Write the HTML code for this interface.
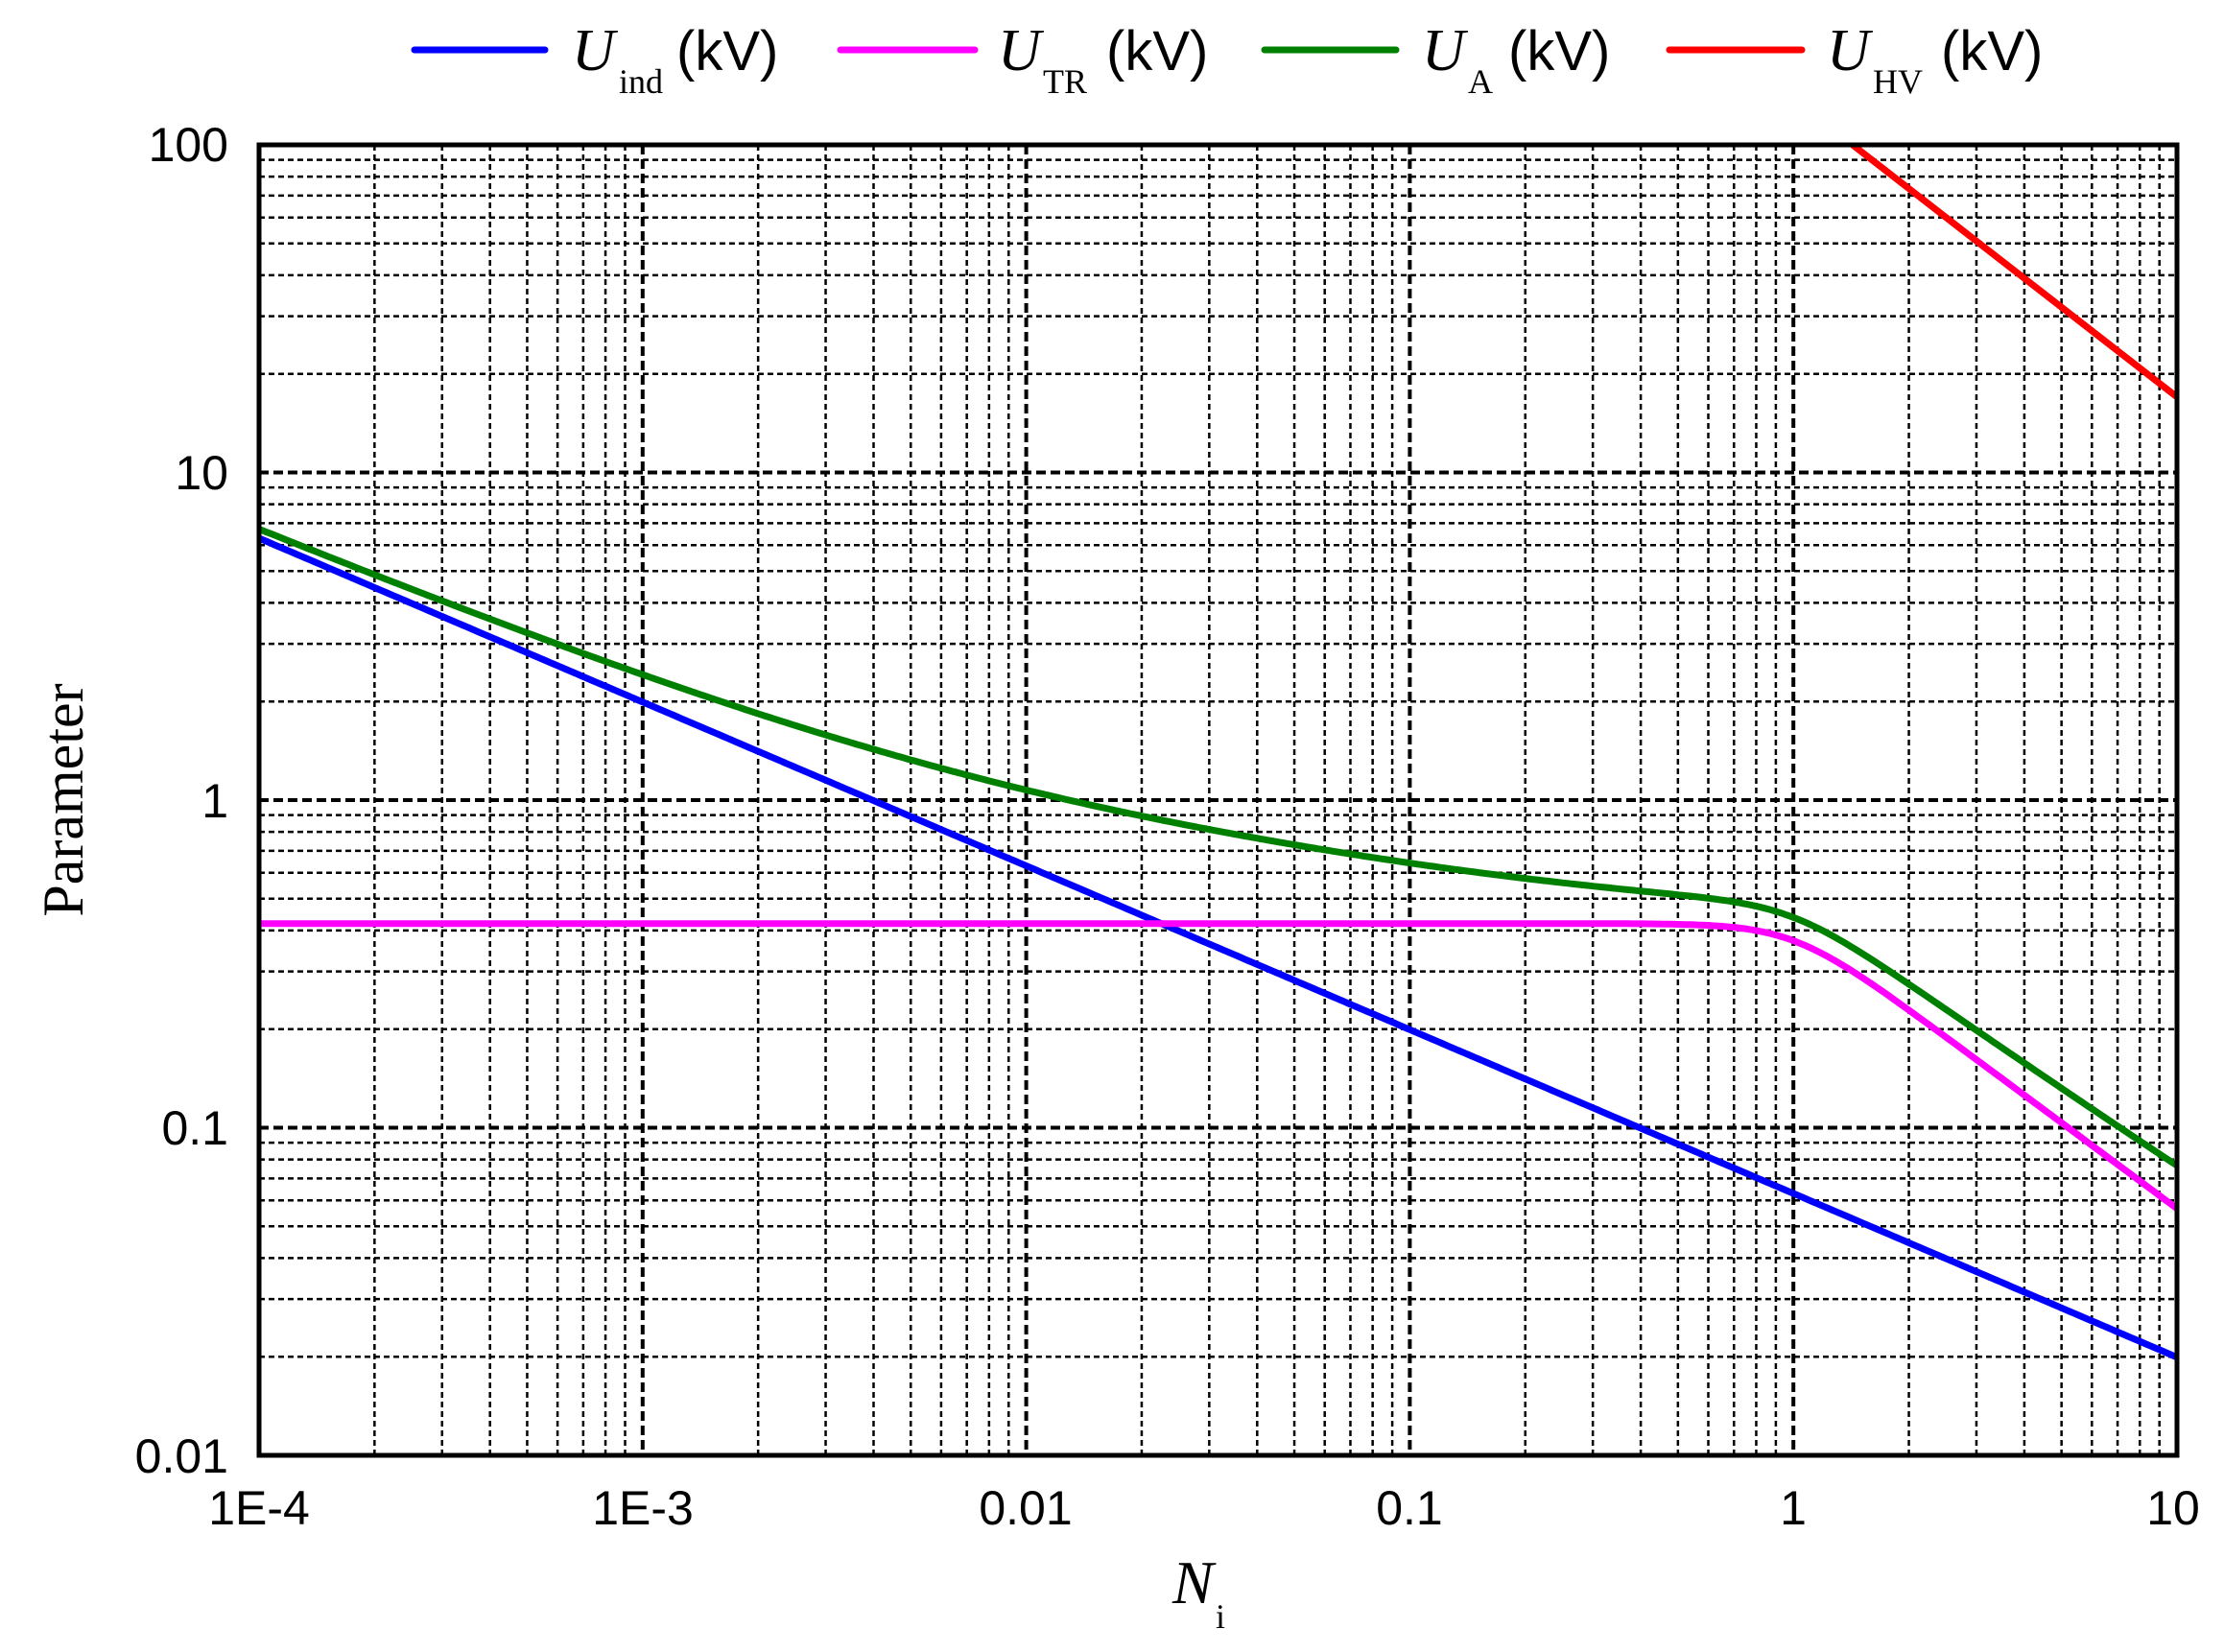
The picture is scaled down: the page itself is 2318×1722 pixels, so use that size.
<!DOCTYPE html>
<html><head><meta charset="utf-8"><style>
html,body{margin:0;padding:0;background:#fff;}
svg{display:block;}
</style></head><body>
<svg id="s" width="2318" height="1722" xmlns="http://www.w3.org/2000/svg">
<g id="grid"></g>
<g id="curves"></g>
<rect x="270" y="151" width="1999" height="1366" fill="none" stroke="#000" stroke-width="5"/>
<g font-family="Liberation Sans, sans-serif" font-size="50" fill="#000">
<text x="238" y="168" text-anchor="end">100</text>
<text x="238" y="510" text-anchor="end">10</text>
<text x="238" y="852" text-anchor="end">1</text>
<text x="238" y="1193" text-anchor="end">0.1</text>
<text x="238" y="1535" text-anchor="end">0.01</text>
<text x="270" y="1589" text-anchor="middle">1E-4</text>
<text x="670" y="1589" text-anchor="middle">1E-3</text>
<text x="1069" y="1589" text-anchor="middle">0.01</text>
<text x="1469" y="1589" text-anchor="middle">0.1</text>
<text x="1869" y="1589" text-anchor="middle">1</text>
<text x="2265" y="1589" text-anchor="middle">10</text>
</g>
<text x="1222" y="1671" font-family="Liberation Serif, serif" font-style="italic" font-size="64">N</text>
<text x="1267" y="1697" font-family="Liberation Serif, serif" font-size="36">i</text>
<text transform="translate(86,834) rotate(-90)" text-anchor="middle" font-family="Liberation Serif, serif" font-size="60">Parameter</text>
<g stroke-width="7" stroke-linecap="round">
<line x1="432" y1="52" x2="568" y2="52" stroke="#0000ff"/>
<line x1="876" y1="52" x2="1016" y2="52" stroke="#ff00ff"/>
<line x1="1318" y1="52" x2="1455" y2="52" stroke="#008000"/>
<line x1="1740" y1="52" x2="1878" y2="52" stroke="#ff0000"/>
</g>
<g fill="#000">
<text x="596" y="73" font-family="Liberation Serif, serif" font-style="italic" font-size="62">U</text>
<text x="645" y="97" font-family="Liberation Serif, serif" font-size="36">ind</text>
<text x="705" y="73" font-family="Liberation Sans, sans-serif" font-size="58">(kV)</text>
<text x="1040" y="73" font-family="Liberation Serif, serif" font-style="italic" font-size="62">U</text>
<text x="1087" y="97" font-family="Liberation Serif, serif" font-size="36">TR</text>
<text x="1153" y="73" font-family="Liberation Sans, sans-serif" font-size="58">(kV)</text>
<text x="1482" y="73" font-family="Liberation Serif, serif" font-style="italic" font-size="62">U</text>
<text x="1530" y="97" font-family="Liberation Serif, serif" font-size="36">A</text>
<text x="1572" y="73" font-family="Liberation Sans, sans-serif" font-size="58">(kV)</text>
<text x="1904" y="73" font-family="Liberation Serif, serif" font-style="italic" font-size="62">U</text>
<text x="1952" y="97" font-family="Liberation Serif, serif" font-size="36">HV</text>
<text x="2023" y="73" font-family="Liberation Sans, sans-serif" font-size="58">(kV)</text>
</g>
</svg>
<script>
(function(){
var X0=270,X1=2269,Y0=151,Y1=1517,DX=(X1-X0)/5,DY=(Y1-Y0)/4;
function X(l){return X0+(l+4)*DX;}
function Y(l){return Y0+(2-l)*DY;}
var g=document.getElementById('grid'),h='';
for(var d=-4;d<1;d++)for(var k=1;k<10;k++){
 var x=X(d+Math.log10(k));
 if(k==1){if(d==-4)continue;h+='<line x1="'+x+'" y1="'+Y0+'" x2="'+x+'" y2="'+Y1+'" stroke="#000" stroke-width="4" stroke-dasharray="10 5"/>';}
 else h+='<line x1="'+x+'" y1="'+Y0+'" x2="'+x+'" y2="'+Y1+'" stroke="#000" stroke-width="2.5" stroke-dasharray="6 4"/>';
}
for(var d=-2;d<2;d++)for(var k=1;k<10;k++){
 var y=Y(d+Math.log10(k));
 if(k==1){if(d==-2)continue;h+='<line x1="'+X0+'" y1="'+y+'" x2="'+X1+'" y2="'+y+'" stroke="#000" stroke-width="4" stroke-dasharray="10 5"/>';}
 else h+='<line x1="'+X0+'" y1="'+y+'" x2="'+X1+'" y2="'+y+'" stroke="#000" stroke-width="2.5" stroke-dasharray="6 4"/>';
}
g.innerHTML=h;
function ind(N){return 0.063*Math.pow(N,-0.5);}
function tr(N){return 0.42*Math.pow(1+Math.pow(N/1.0,5),-0.87/5);}
function ua(N){return ind(N)+tr(N)+0.03*Math.exp(-Math.pow(Math.log10(N)+1.5,2));}
function path(f,c){
 var p='';for(var i=0;i<=500;i++){var l=-4+5*i/500;var v=Math.log10(f(Math.pow(10,l)));
 if(v>2)continue;p+=(p?'L':'M')+X(l).toFixed(1)+','+Y(v).toFixed(1);}
 return '<path d="'+p+'" fill="none" stroke="'+c+'" stroke-width="7" stroke-linejoin="round"/>';
}
var lstart=Math.log10(10*Math.pow(100/17,-1/0.91));
document.getElementById('curves').innerHTML=path(ind,'#0000ff')+path(tr,'#ff00ff')+path(ua,'#008000')+
 '<path d="M'+X(lstart)+','+Y(2)+'L'+X(1)+','+Y(Math.log10(17))+'" stroke="#ff0000" stroke-width="7" fill="none"/>';
})();
</script>
</body></html>
